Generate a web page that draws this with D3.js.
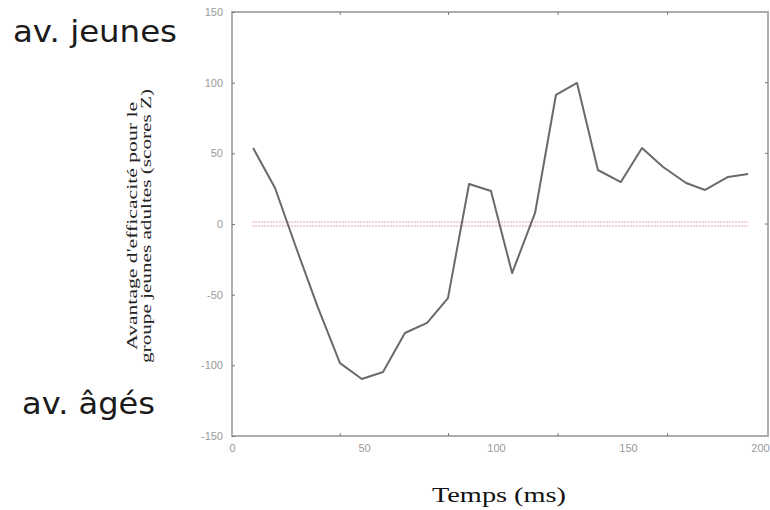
<!DOCTYPE html>
<html>
<head>
<meta charset="utf-8">
<script src="https://cdn.jsdelivr.net/npm/d3@7"></script>
<style>
  body { margin: 0; background: #fff; }
  svg { display: block; }
</style>
</head>
<body>
<svg id="chart"></svg>
<script>
// time (ms) and z-score advantage for young adults
const times = [8, 16.3, 24.6, 32.6, 40.9, 49.2, 57.2, 65.5, 73.9, 81.8, 89.8, 98.1,
               106.1, 114.8, 122.7, 130.7, 138.6, 147.3, 155.3, 163.3, 172, 179.2, 187.9, 195.5];
const advantage = [53.8, 25.5, -18.4, -59.4, -98.4, -109.7, -104.7, -77.1, -70, -52.4, 28.3, 23.3,
                   -34.7, 7.8, 91.3, 99.8, 38.2, 29.7, 53.8, 40.3, 29, 24.1, 33.3, 35.4];
const xTickLabels = [0, 50, 100, 150, 200];
const xTickMarks = [41, 82, 123.5, 165];
const yTickLabels = [-150, -100, -50, 0, 50, 100, 150];
const yRightTicks = [0, 50, 100];

const width = 770, height = 510;
const svg = d3.select("#chart")
  .attr("width", width)
  .attr("height", height);

const x = d3.scaleLinear().domain([0, 200]).range([232, 760]);
const y = d3.scaleLinear().domain([-150, 150]).range([436, 12]);
const xEnd = x.invert(768);

const axisColor = "#9a9a9a";

// frame
svg.append("rect")
  .attr("x", x(0))
  .attr("y", y(150))
  .attr("width", x(xEnd) - x(0))
  .attr("height", y(-150) - y(150))
  .attr("fill", "none")
  .attr("stroke", axisColor)
  .attr("stroke-width", 1.6);

// left axis: inward ticks, plain hyphen minus like the original
const yAxis = d3.axisLeft(y).tickValues(yTickLabels).tickSize(-3).tickPadding(9).tickFormat(d => String(d));
const gy = svg.append("g").attr("transform", `translate(${x(0)},0)`).call(yAxis);
gy.select(".domain").remove();
gy.selectAll("line").attr("stroke", "#777");
gy.selectAll("text")
  .attr("fill", "#999")
  .attr("font-family", "Liberation Sans, Arial, sans-serif")
  .attr("font-size", 11);

// right axis ticks
svg.append("g").selectAll("line")
  .data(yRightTicks)
  .join("line")
  .attr("x1", x(xEnd)).attr("x2", x(xEnd) - 3)
  .attr("y1", d => y(d)).attr("y2", d => y(d))
  .attr("stroke", "#777");

// bottom axis labels
const xAxis = d3.axisBottom(x).tickValues(xTickLabels).tickSize(0).tickPadding(8).tickFormat(d => String(d));
const gx = svg.append("g").attr("transform", `translate(0,${y(-150)})`).call(xAxis);
gx.select(".domain").remove();
gx.selectAll("text")
  .attr("fill", "#999")
  .attr("font-family", "Liberation Sans, Arial, sans-serif")
  .attr("font-size", 11);

// inward tick marks on top and bottom edges
svg.append("g").selectAll("line")
  .data(xTickMarks)
  .join("line")
  .attr("x1", d => x(d)).attr("x2", d => x(d))
  .attr("y1", y(-150)).attr("y2", y(-150) - 3)
  .attr("stroke", "#777");
svg.append("g").selectAll("line")
  .data(xTickMarks)
  .join("line")
  .attr("x1", d => x(d)).attr("x2", d => x(d))
  .attr("y1", y(150)).attr("y2", y(150) + 3)
  .attr("stroke", "#777");

// dotted reference band at zero
const t0 = d3.min(times), t1 = d3.max(times);
svg.append("g").selectAll("line")
  .data([-2, 2])
  .join("line")
  .attr("x1", x(t0) - 1).attr("x2", x(t1))
  .attr("y1", d => y(0) + d).attr("y2", d => y(0) + d)
  .attr("stroke", "#e2a4ac")
  .attr("stroke-width", 1)
  .attr("stroke-dasharray", "2,1");

// data line
const pts = times.map((t, i) => [t, advantage[i]]);
svg.append("path")
  .datum(pts)
  .attr("fill", "none")
  .attr("stroke", "#6a6a6a")
  .attr("stroke-width", 2)
  .attr("stroke-linejoin", "round")
  .attr("d", d3.line().x(d => x(d[0])).y(d => y(d[1])));

// axis titles
svg.append("text")
  .attr("x", 499)
  .attr("y", 502)
  .attr("text-anchor", "middle")
  .attr("font-family", "Liberation Serif, Times New Roman, serif")
  .attr("font-size", 22)
  .attr("textLength", 134)
  .attr("lengthAdjust", "spacingAndGlyphs")
  .attr("fill", "#111")
  .text("Temps (ms)");

const yTitle = svg.append("g").attr("transform", "translate(0,226) rotate(-90)");
yTitle.append("text")
  .attr("x", 0).attr("y", 137)
  .attr("text-anchor", "middle")
  .attr("font-family", "Liberation Serif, Times New Roman, serif")
  .attr("font-size", 14)
  .attr("textLength", 248)
  .attr("lengthAdjust", "spacingAndGlyphs")
  .attr("fill", "#222")
  .text("Avantage d'efficacité pour le");
yTitle.append("text")
  .attr("x", 0).attr("y", 151)
  .attr("text-anchor", "middle")
  .attr("font-family", "Liberation Serif, Times New Roman, serif")
  .attr("font-size", 14)
  .attr("textLength", 274)
  .attr("lengthAdjust", "spacingAndGlyphs")
  .attr("fill", "#222")
  .text("groupe jeunes adultes (scores Z)");

// side annotations
svg.append("text")
  .attr("x", 13).attr("y", 42)
  .attr("font-family", "DejaVu Sans, Verdana, sans-serif")
  .attr("font-size", 31)
  .attr("textLength", 164)
  .attr("lengthAdjust", "spacingAndGlyphs")
  .attr("fill", "#1a1a1a")
  .text("av. jeunes");
svg.append("text")
  .attr("x", 22).attr("y", 414)
  .attr("font-family", "DejaVu Sans, Verdana, sans-serif")
  .attr("font-size", 31)
  .attr("textLength", 133)
  .attr("lengthAdjust", "spacingAndGlyphs")
  .attr("fill", "#1a1a1a")
  .text("av. âgés");
</script>
</body>
</html>
